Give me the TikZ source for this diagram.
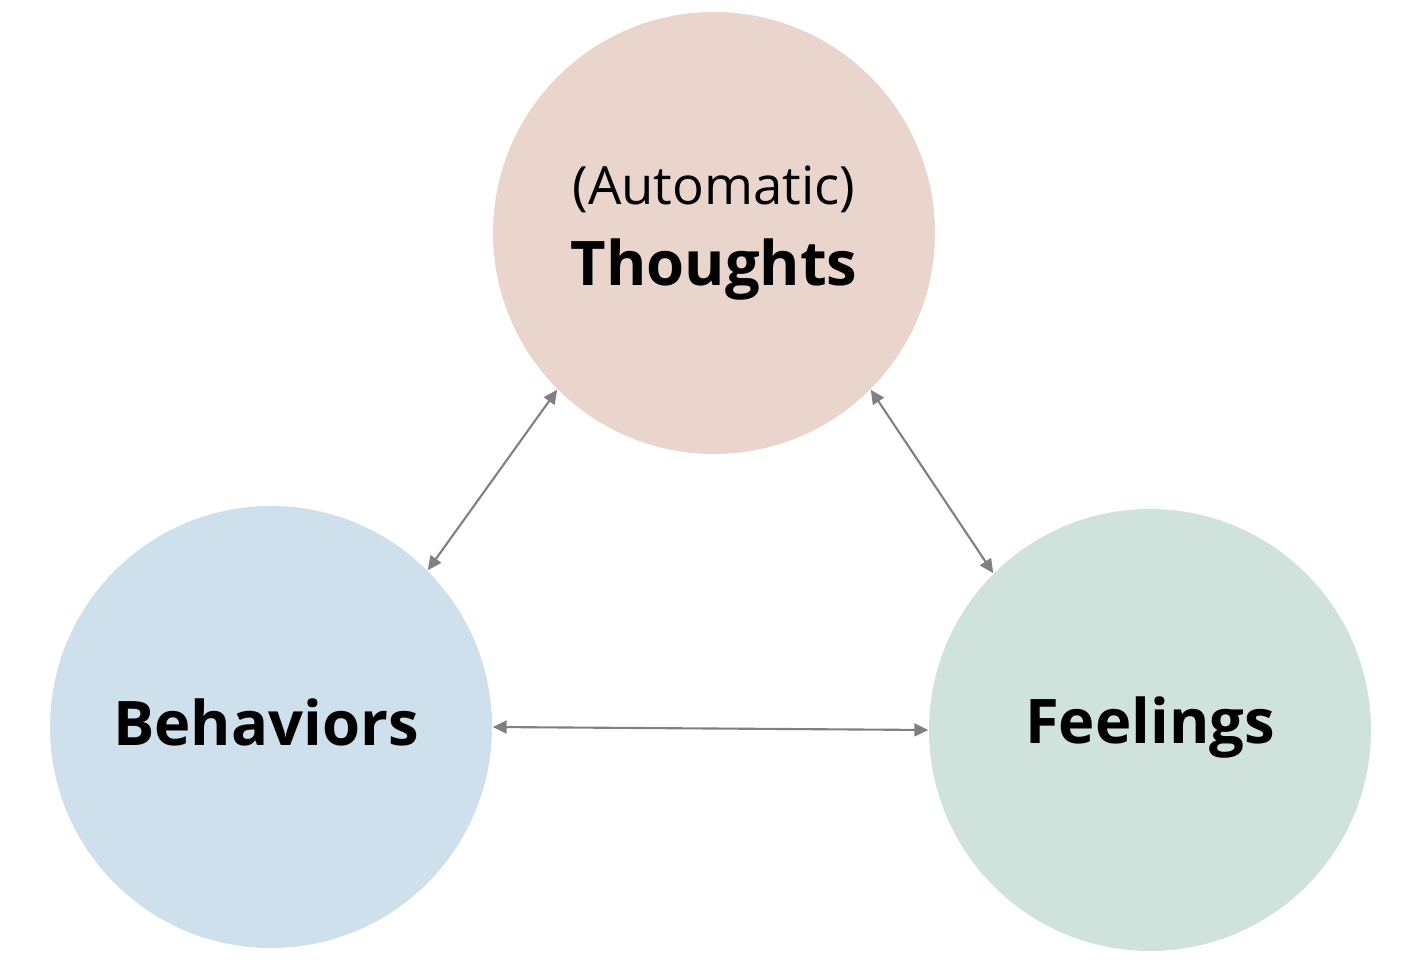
\documentclass[tikz,border=0pt]{standalone}
\usepackage{fontspec}
\setmainfont{Open Sans}
\usepackage{tikz}
\usetikzlibrary{arrows.meta}
\definecolor{thoughtfill}{HTML}{EAD5CD}
\definecolor{behavfill}{HTML}{CDE0EB}
\definecolor{feelfill}{HTML}{CFE3DC}
\definecolor{arrowgray}{HTML}{808080}
\tikzset{
  cbt/circ/.style={circle, minimum size=44.2mm, inner sep=0pt, align=center},
  cbt/arr/.style={draw=arrowgray, line width=0.6pt,
    {Triangle[length=1.4mm,width=1.3mm]}-{Triangle[length=1.4mm,width=1.3mm]}},
  cbt/big/.style={anchor=base, font=\fontsize{17.5}{21}\selectfont\bfseries}
}

\begin{document}
\begin{tikzpicture}
\useasboundingbox (0,0) rectangle (14.06,-9.68);
\node[cbt/circ, fill=thoughtfill] (thoughts) at (7.14,-2.33) {};
\node[cbt/circ, fill=behavfill] (behav) at (2.71,-7.27) {};
\node[cbt/circ, fill=feelfill] (feel) at (11.50,-7.30) {};

\node[anchor=base, font=\fontsize{15}{18}\selectfont] (auto) at (7.14,-2.05) {(Automatic)};
\node[cbt/big] (thlabel) at (7.14,-2.86) {Thoughts};
\node[cbt/big] (bhlabel) at (2.66,-7.45) {Behaviors};
\node[cbt/big] (fllabel) at (11.50,-7.43) {Feelings};

\draw[cbt/arr] (thoughts.225) -- (behav.45);
\draw[cbt/arr] (thoughts.315) -- (feel.135);
\draw[cbt/arr] (behav.east) -- (feel.west);
\end{tikzpicture}
\end{document}
